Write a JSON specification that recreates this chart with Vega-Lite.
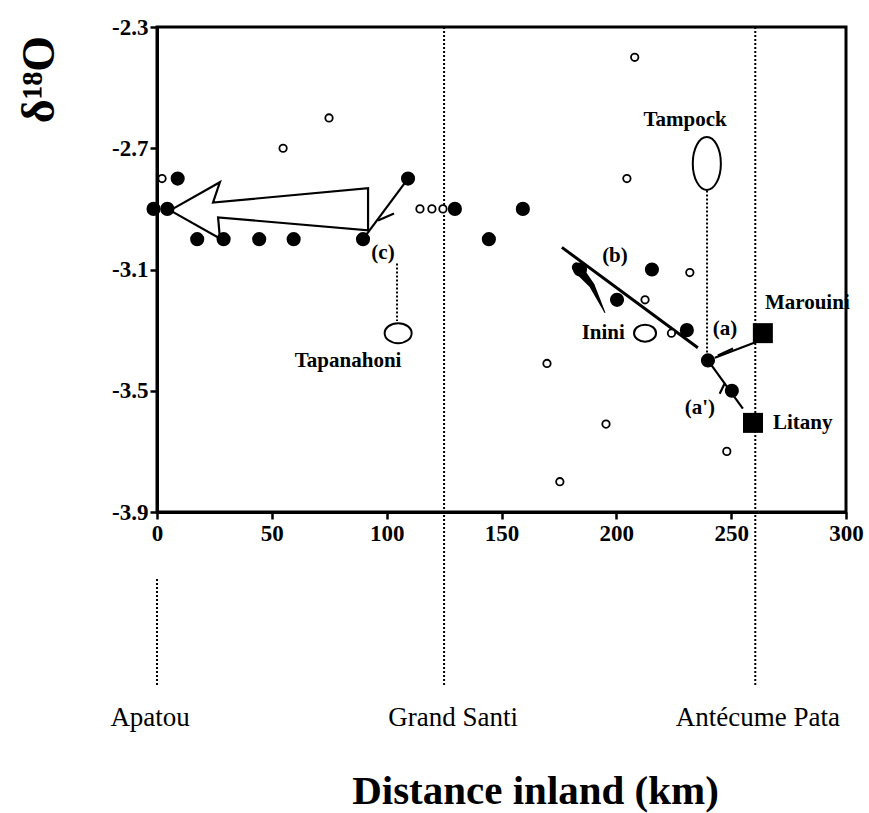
{
  "$schema": "https://vega.github.io/schema/vega-lite/v6.json",
  "width": 689,
  "height": 485,
  "autosize": {"type": "none"},
  "padding": {"left": 157, "top": 27, "right": 23, "bottom": 301},
  "background": "white",
  "config": {
    "font": "Liberation Serif",
    "view": {"stroke": "black", "strokeWidth": 3}
  },
  "datasets": {
    "filled": [
      {"x": -1.5, "y": -2.9}, {"x": 4.5, "y": -2.9}, {"x": 9, "y": -2.8}, {"x": 17.5, "y": -3.0},
      {"x": 29, "y": -3.0}, {"x": 44.5, "y": -3.0}, {"x": 59.5, "y": -3.0}, {"x": 89.7, "y": -3.0},
      {"x": 109.3, "y": -2.8}, {"x": 129.7, "y": -2.9}, {"x": 144.5, "y": -3.0}, {"x": 159.3, "y": -2.9},
      {"x": 184.2, "y": -3.1}, {"x": 200.3, "y": -3.2}, {"x": 215.5, "y": -3.1}, {"x": 230.7, "y": -3.3},
      {"x": 239.9, "y": -3.4}, {"x": 250.3, "y": -3.5}
    ],
    "open": [
      {"x": 2.2, "y": -2.8}, {"x": 54.9, "y": -2.7}, {"x": 74.9, "y": -2.6}, {"x": 114.5, "y": -2.9},
      {"x": 119.7, "y": -2.9}, {"x": 124.5, "y": -2.9}, {"x": 204.6, "y": -2.8}, {"x": 208, "y": -2.4},
      {"x": 232, "y": -3.11}, {"x": 212.5, "y": -3.2}, {"x": 224, "y": -3.31}, {"x": 169.8, "y": -3.41},
      {"x": 195.5, "y": -3.61}, {"x": 248.1, "y": -3.7}, {"x": 175.4, "y": -3.8}
    ],
    "squares": [
      {"x": 263.8, "y": -3.31, "river": "Marouini"},
      {"x": 259.5, "y": -3.606, "river": "Litany"}
    ],
    "ellipses": [
      {"x": 239.4, "y": -2.75, "river": "Tampock"},
      {"x": 105, "y": -3.31, "river": "Tapanahoni"},
      {"x": 212.5, "y": -3.31, "river": "Inini"}
    ],
    "bigArrow": [
      {"i": 0, "x": 5.7, "y": -2.905}, {"i": 1, "x": 27.4, "y": -2.812}, {"i": 2, "x": 24.4, "y": -2.879},
      {"i": 3, "x": 91.9, "y": -2.832}, {"i": 4, "x": 91.9, "y": -2.971}, {"i": 5, "x": 26.6, "y": -2.928},
      {"i": 6, "x": 27.4, "y": -2.998}, {"i": 7, "x": 5.7, "y": -2.905}
    ],
    "thin": [
      {"seg": "c", "i": 0, "x": 89.7, "y": -3.0}, {"seg": "c", "i": 1, "x": 109.3, "y": -2.8},
      {"seg": "cbarb", "i": 0, "x": 96.2, "y": -2.938}, {"seg": "cbarb", "i": 1, "x": 103.2, "y": -2.915},
      {"seg": "a", "i": 0, "x": 260.3, "y": -3.341}, {"seg": "a", "i": 1, "x": 242.9, "y": -3.391},
      {"seg": "abarb", "i": 0, "x": 244.2, "y": -3.384}, {"seg": "abarb", "i": 1, "x": 250.8, "y": -3.361},
      {"seg": "a2", "i": 0, "x": 239.9, "y": -3.4}, {"seg": "a2", "i": 1, "x": 255.1, "y": -3.559},
      {"seg": "a2barb", "i": 0, "x": 247.1, "y": -3.477}, {"seg": "a2barb", "i": 1, "x": 245.0, "y": -3.51}
    ],
    "thick": [
      {"seg": "b", "i": 0, "x": 176.3, "y": -3.027}, {"seg": "b", "i": 1, "x": 235.5, "y": -3.358}
    ],
    "wedge": [
      {"step": 0, "x": 182.8, "y": -3.093}, {"step": 1, "x": 189.4, "y": -3.153}, {"step": 2, "x": 195.0, "y": -3.242}
    ],
    "dotted": [
      {"seg": "GrandSanti", "i": 0, "x": 125, "y": -2.3}, {"seg": "GrandSanti", "i": 1, "x": 125, "y": -4.475},
      {"seg": "Antecume", "i": 0, "x": 260.5, "y": -2.3}, {"seg": "Antecume", "i": 1, "x": 260.5, "y": -4.475},
      {"seg": "Apatou", "i": 0, "x": 0, "y": -4.121}, {"seg": "Apatou", "i": 1, "x": 0, "y": -4.475},
      {"seg": "Tampock", "i": 0, "x": 239.5, "y": -2.839}, {"seg": "Tampock", "i": 1, "x": 239.5, "y": -3.40},
      {"seg": "Tapanahoni", "i": 0, "x": 104.5, "y": -3.08}, {"seg": "Tapanahoni", "i": 1, "x": 104.5, "y": -3.27}
    ],
    "labelsCenter": [
      {"x": 229.9, "y": -2.607, "text": "Tampock"},
      {"x": 199.4, "y": -3.054, "text": "(b)"},
      {"x": 98.4, "y": -3.047, "text": "(c)"},
      {"x": 247.3, "y": -3.295, "text": "(a)"},
      {"x": 236.4, "y": -3.556, "text": "(a')"},
      {"x": 83.2, "y": -3.401, "text": "Tapanahoni"}
    ],
    "labelsRight": [
      {"x": 203.7, "y": -3.31, "text": "Inini"}
    ],
    "labelsLeft": [
      {"x": 264.7, "y": -3.209, "text": "Marouini"},
      {"x": 268.2, "y": -3.606, "text": "Litany"}
    ],
    "places": [
      {"x": -3, "y": -4.578, "text": "Apatou"},
      {"x": 128.9, "y": -4.578, "text": "Grand Santi"},
      {"x": 261.6, "y": -4.578, "text": "Antécume Pata"}
    ]
  },
  "encoding": {
    "x": {
      "field": "x", "type": "quantitative",
      "scale": {"domain": [0, 300], "nice": false, "zero": false},
      "axis": {
        "values": [0, 50, 100, 150, 200, 250, 300],
        "title": "Distance inland (km)",
        "titleFont": "Liberation Serif", "titleFontSize": 41, "titleFontWeight": "bold",
        "titleX": 378, "titleY": 279, "titleBaseline": "middle", "titleAlign": "center",
        "labelFont": "Liberation Serif", "labelFontSize": 23, "labelFontWeight": "bold",
        "labelColor": "black", "labelPadding": 3, "labelFlush": false,
        "domainColor": "black", "domainWidth": 3,
        "tickColor": "black", "tickWidth": 2.5, "tickSize": 7,
        "grid": false
      }
    },
    "y": {
      "field": "y", "type": "quantitative",
      "scale": {"domain": [-3.9, -2.3], "nice": false, "zero": false},
      "axis": {
        "values": [-2.3, -2.7, -3.1, -3.5, -3.9],
        "labelExpr": "replace(format(datum.value, '.1f'), '\u2212', '-')",
        "title": "δ¹⁸O",
        "titleFont": "Liberation Serif", "titleFontSize": 46, "titleFontWeight": "bold",
        "titleAngle": 270, "titleX": -118, "titleY": 52, "titleBaseline": "middle", "titleAlign": "center",
        "labelFont": "Liberation Serif", "labelFontSize": 23, "labelFontWeight": "bold",
        "labelColor": "black", "labelPadding": 2, "labelFlush": false,
        "domainColor": "black", "domainWidth": 3,
        "tickColor": "black", "tickWidth": 2.5, "tickSize": 7,
        "grid": false
      }
    }
  },
  "layer": [
    {
      "data": {"name": "dotted"},
      "mark": {"type": "line", "color": "black", "strokeWidth": 2, "strokeDash": [2, 2], "clip": false},
      "encoding": {"detail": {"field": "seg"}, "order": {"field": "i"}}
    },
    {
      "data": {"name": "bigArrow"},
      "mark": {"type": "line", "color": "black", "strokeWidth": 2.2, "strokeJoin": "miter"},
      "encoding": {"order": {"field": "i"}}
    },
    {
      "data": {"name": "thin"},
      "mark": {"type": "line", "color": "black", "strokeWidth": 2.2},
      "encoding": {"detail": {"field": "seg"}, "order": {"field": "i"}}
    },
    {
      "data": {"name": "thick"},
      "mark": {"type": "line", "color": "black", "strokeWidth": 3},
      "encoding": {"detail": {"field": "seg"}, "order": {"field": "i"}}
    },
    {
      "data": {"name": "wedge"},
      "mark": {"type": "trail", "color": "black"},
      "encoding": {
        "order": {"field": "step"},
        "size": {"field": "step", "type": "quantitative", "scale": {"domain": [0, 2], "range": [10, 1]}, "legend": null}
      }
    },
    {
      "data": {"name": "open"},
      "mark": {"type": "point", "shape": "circle", "filled": false, "fill": "white", "fillOpacity": 1, "stroke": "black", "strokeWidth": 1.8, "size": 55, "opacity": 1}
    },
    {
      "data": {"name": "filled"},
      "mark": {"type": "point", "shape": "circle", "filled": true, "color": "black", "size": 200, "opacity": 1}
    },
    {
      "data": {"name": "squares"},
      "mark": {"type": "point", "shape": "square", "filled": true, "color": "black", "size": 400, "opacity": 1}
    },
    {
      "data": {"name": "ellipses"},
      "transform": [{"filter": "datum.river === 'Tampock'"}],
      "mark": {"type": "point", "shape": "M 0 -1 A 0.53 1 0 1 1 0 1 A 0.53 1 0 1 1 0 -1 Z", "filled": false, "stroke": "black", "strokeWidth": 2, "size": 2809, "opacity": 1}
    },
    {
      "data": {"name": "ellipses"},
      "transform": [{"filter": "datum.river === 'Tapanahoni'"}],
      "mark": {"type": "point", "shape": "M -1 0 A 1 0.74 0 1 1 1 0 A 1 0.74 0 1 1 -1 0 Z", "filled": false, "stroke": "black", "strokeWidth": 2, "size": 729, "opacity": 1}
    },
    {
      "data": {"name": "ellipses"},
      "transform": [{"filter": "datum.river === 'Inini'"}],
      "mark": {"type": "point", "shape": "M -1 0 A 1 0.77 0 1 1 1 0 A 1 0.77 0 1 1 -1 0 Z", "filled": false, "stroke": "black", "strokeWidth": 2, "size": 484, "opacity": 1}
    },
    {
      "data": {"name": "labelsCenter"},
      "mark": {"type": "text", "font": "Liberation Serif", "fontWeight": "bold", "fontSize": 21, "align": "center", "baseline": "middle", "color": "black"},
      "encoding": {"text": {"field": "text"}}
    },
    {
      "data": {"name": "labelsRight"},
      "mark": {"type": "text", "font": "Liberation Serif", "fontWeight": "bold", "fontSize": 21, "align": "right", "baseline": "middle", "color": "black"},
      "encoding": {"text": {"field": "text"}}
    },
    {
      "data": {"name": "labelsLeft"},
      "mark": {"type": "text", "font": "Liberation Serif", "fontWeight": "bold", "fontSize": 21, "align": "left", "baseline": "middle", "color": "black"},
      "encoding": {"text": {"field": "text"}}
    },
    {
      "data": {"name": "places"},
      "mark": {"type": "text", "font": "Liberation Serif", "fontSize": 27, "align": "center", "baseline": "middle", "color": "black", "clip": false},
      "encoding": {"text": {"field": "text"}}
    }
  ]
}
